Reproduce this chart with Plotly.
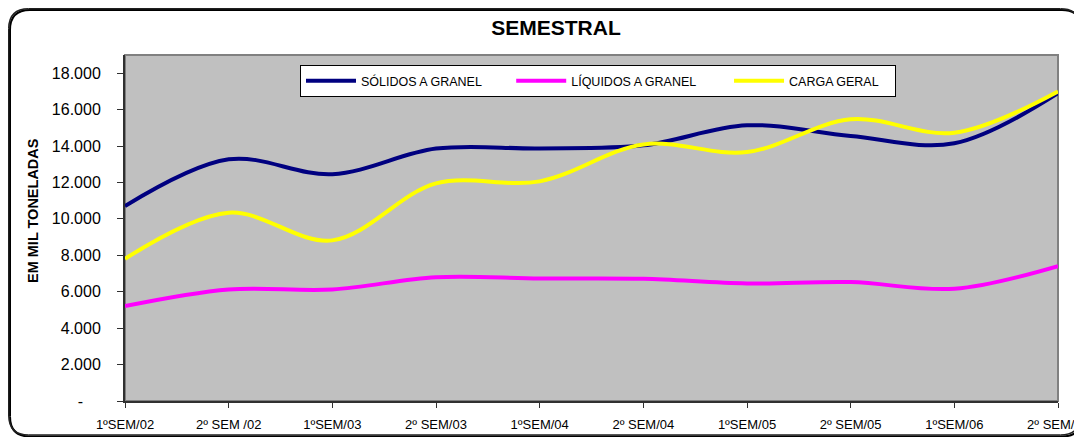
import plotly.graph_objects as go

# Data (thousand tonnes per semester)
semesters = ['1ºSEM/02', '2º SEM /02', '1ºSEM/03', '2º SEM/03', '1ºSEM/04',
             '2º SEM/04', '1ºSEM/05', '2º SEM/05', '1ºSEM/06', '2º SEM/06']
solidos = [10700, 13270, 12450, 13860, 13870, 14040, 15140, 14550, 14150, 16900]
liquidos = [5210, 6125, 6125, 6800, 6730, 6710, 6455, 6530, 6165, 7410]
carga = [7810, 10340, 8820, 11950, 12060, 14090, 13670, 15470, 14735, 17000]
series_names = ['SÓLIDOS A GRANEL', 'LÍQUIDOS A GRANEL', 'CARGA GERAL']

y_ticks = [0, 2000, 4000, 6000, 8000, 10000, 12000, 14000, 16000, 18000]
y_ticktext = ['-\u00a0\u00a0\u00a0\u00a0', '2.000', '4.000', '6.000', '8.000', '10.000',
              '12.000', '14.000', '16.000', '18.000']

FONT = 'Liberation Sans, Arial, sans-serif'

# the page body has an 8px margin, so the figure is drawn 8px in from the corner
OFF = 8
W, H = 1082 - OFF, 437 - OFF
L, R, T, B = 117, 24, 47, 36
PW, PH = W - L - R, H - T - B


def px(x):
    """window pixel x -> paper x"""
    return (x - OFF - L) / PW


def py(y):
    """window pixel y -> paper y"""
    return (H - B - (y - OFF)) / PH


def frame_shapes(x0, y0, x1, y1, r, color, width):
    """Rounded frame (window pixels) as straight edges plus corner curves."""
    line = dict(color=color, width=width)
    edges = [(x0 + r, y0, x1 - r, y0), (x1, y0 + r, x1, y1 - r),
             (x0 + r, y1, x1 - r, y1), (x0, y0 + r, x0, y1 - r)]
    out = [dict(type='line', xref='paper', yref='paper',
                x0=px(a), y0=py(b), x1=px(c), y1=py(d), line=line)
           for a, b, c, d in edges]
    corners = [((x0, y0 + r), (x0, y0), (x0 + r, y0)),
               ((x1 - r, y0), (x1, y0), (x1, y0 + r)),
               ((x1, y1 - r), (x1, y1), (x1 - r, y1)),
               ((x0 + r, y1), (x0, y1), (x0, y1 - r))]
    for (ax, ay), (cx, cy), (bx, by) in corners:
        path = (f"M{px(ax):.5f},{py(ay):.5f} "
                f"Q{px(cx):.5f},{py(cy):.5f} {px(bx):.5f},{py(by):.5f}")
        out.append(dict(type='path', xref='paper', yref='paper', path=path, line=line))
    return out


fig = go.Figure()
pads = [7, 8, 3]  # trailing spaces to spread the legend entries
for name, vals, color, pad in zip(series_names, [solidos, liquidos, carga],
                                  ['#000080', '#FF00FF', '#FFFF00'], pads):
    fig.add_trace(go.Scatter(
        x=semesters, y=vals, name=name + '\u00a0' * pad, mode='lines',
        line=dict(color=color, width=4, shape='spline', smoothing=1),
    ))

fig.update_layout(
    width=W, height=H, autosize=False,
    margin=dict(l=L, r=R, t=T, b=B, autoexpand=False),
    paper_bgcolor='white',
    plot_bgcolor='#C0C0C0',
    font=dict(family=FONT, color='black'),
    title=dict(text='<b>SEMESTRAL</b>', x=(556 - OFF) / W, xanchor='center', xref='container',
               y=1 - (28 - OFF) / H, yanchor='middle', yref='container',
               font=dict(size=21)),
    showlegend=True,
    legend=dict(orientation='h', x=px(300), xanchor='left', y=py(65), yanchor='top',
                bgcolor='white', bordercolor='black', borderwidth=1,
                font=dict(size=12.5), itemwidth=50, tracegroupgap=0),
    xaxis=dict(type='category', range=[0, len(semesters) - 1], showgrid=False,
               showline=True, linecolor='#303030', linewidth=2,
               ticks='outside', ticklen=5, tickcolor='#303030',
               ticklabelstandoff=5, tickfont=dict(size=13)),
    yaxis=dict(range=[0, 19000], tickvals=y_ticks, ticktext=y_ticktext,
               showgrid=False, zeroline=False,
               showline=True, linecolor='#303030', linewidth=2,
               ticks='outside', ticklen=6, tickcolor='#303030',
               ticklabelstandoff=13, tickfont=dict(size=16)),
    # overlay axes only add the inner half of the crossing tick marks
    xaxis2=dict(overlaying='x', anchor='y', range=[0, len(semesters) - 1], dtick=1,
                showgrid=False, zeroline=False, showline=False, showticklabels=False,
                ticks='inside', ticklen=4, tickcolor='#303030', side='bottom'),
    yaxis2=dict(overlaying='y', anchor='x', range=[0, 19000], tickvals=y_ticks,
                showgrid=False, zeroline=False, showline=False, showticklabels=False,
                ticks='inside', ticklen=6, tickcolor='#303030', side='left'),
    annotations=[dict(text='<b>EM MIL TONELADAS</b>', textangle=-90,
                      xref='paper', yref='paper', x=px(33), y=py(211),
                      xanchor='center', yanchor='middle',
                      showarrow=False, font=dict(size=14.5))],
    shapes=[
        # plot area border (grey top/right)
        dict(type='rect', xref='paper', yref='paper', x0=0, y0=0, x1=1, y1=1,
             line=dict(color='#808080', width=2), layer='below'),
    ] + frame_shapes(10, 10, 1082, 436.5, 20, 'black', 2)
      + frame_shapes(8.75, 8.75, 1080.5, 435, 20, '#202020', 1.5),
)

fig.write_html("out.html")
